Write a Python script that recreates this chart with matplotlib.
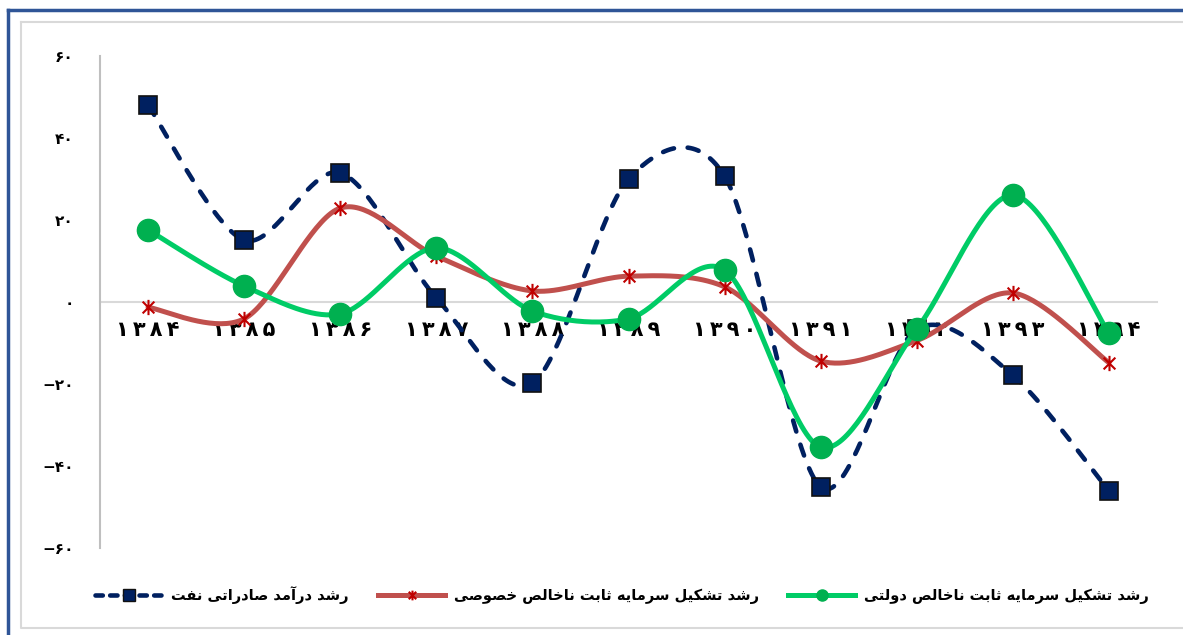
import numpy as np
import matplotlib
matplotlib.use('Agg')
import matplotlib.pyplot as plt
from matplotlib.lines import Line2D
from matplotlib.path import Path

years = ['۱۳۸۴', '۱۳۸۵', '۱۳۸۶', '۱۳۸۷', '۱۳۸۸', '۱۳۸۹',
         '۱۳۹۰', '۱۳۹۱', '۱۳۹۲', '۱۳۹۳', '۱۳۹۴']
oil = [48.0, 15.1, 31.5, 1.0, -19.8, 30.0, 30.7, -45.1, -6.6, -17.9, -46.1]
private = [-1.3, -4.1, 22.9, 11.2, 2.7, 6.3, 3.7, -14.4, -9.4, 2.2, -14.8]
govt = [17.6, 3.9, -2.9, 13.2, -2.2, -4.1, 7.8, -35.4, -6.6, 26.1, -7.6]
yticks = [60, 40, 20, 0, -20, -40, -60]
ytick_labels = ['۶۰', '۴۰', '۲۰', '۰', '−۲۰', '−۴۰', '−۶۰']
names = ['رشد درآمد صادراتی نفت',
         'رشد تشکیل سرمایه ثابت ناخالص خصوصی',
         'رشد تشکیل سرمایه ثابت ناخالص دولتی']

# arabic presentation forms: isolated, final, initial, medial
FORMS = {
    'ا': ('\uFE8D', '\uFE8E', None, None),
    'آ': ('\uFE81', '\uFE82', None, None),
    'ب': ('\uFE8F', '\uFE90', '\uFE91', '\uFE92'),
    'ت': ('\uFE95', '\uFE96', '\uFE97', '\uFE98'),
    'ث': ('\uFE99', '\uFE9A', '\uFE9B', '\uFE9C'),
    'خ': ('\uFEA5', '\uFEA6', '\uFEA7', '\uFEA8'),
    'د': ('\uFEA9', '\uFEAA', None, None),
    'ر': ('\uFEAD', '\uFEAE', None, None),
    'س': ('\uFEB1', '\uFEB2', '\uFEB3', '\uFEB4'),
    'ش': ('\uFEB5', '\uFEB6', '\uFEB7', '\uFEB8'),
    'ص': ('\uFEB9', '\uFEBA', '\uFEBB', '\uFEBC'),
    'ف': ('\uFED1', '\uFED2', '\uFED3', '\uFED4'),
    'ل': ('\uFEDD', '\uFEDE', '\uFEDF', '\uFEE0'),
    'م': ('\uFEE1', '\uFEE2', '\uFEE3', '\uFEE4'),
    'ن': ('\uFEE5', '\uFEE6', '\uFEE7', '\uFEE8'),
    'ه': ('\uFEE9', '\uFEEA', '\uFEEB', '\uFEEC'),
    'و': ('\uFEED', '\uFEEE', None, None),
    'ی': ('\uFBFC', '\uFBFD', '\uFBFE', '\uFBFF'),
    'ک': ('\uFB8E', '\uFB8F', '\uFB90', '\uFB91'),
}


def shape(s):
    out = []
    for i, c in enumerate(s):
        if c not in FORMS:
            out.append(c)
            continue
        prev = s[i - 1] if i > 0 else ''
        nxt = s[i + 1] if i + 1 < len(s) else ''
        jp = prev in FORMS and FORMS[prev][2] is not None
        jn = nxt in FORMS and FORMS[c][2] is not None
        iso, fin, ini, med = FORMS[c]
        if jp and jn:
            out.append(med)
        elif jp:
            out.append(fin)
        elif jn:
            out.append(ini)
        else:
            out.append(iso)
    return ''.join(out)[::-1]


def smooth(y, n=40, k=6.5):
    # excel-like smoothed line (catmull-rom bezier)
    y = np.asarray(y, float)
    x = np.arange(len(y), dtype=float)
    pts = np.column_stack([x, y])
    xs, ys = [], []
    t = np.linspace(0, 1, n)[:, None]
    for i in range(len(pts) - 1):
        p0 = pts[i]
        p3 = pts[i + 1]
        pm = pts[i - 1] if i > 0 else p0
        pp = pts[i + 2] if i + 2 < len(pts) else p3
        c1 = p0 + (p3 - pm) / k
        c2 = p3 - (pp - p0) / k
        b = ((1 - t) ** 3 * p0 + 3 * (1 - t) ** 2 * t * c1
             + 3 * (1 - t) * t ** 2 * c2 + t ** 3 * p3)
        xs.extend(b[:, 0])
        ys.extend(b[:, 1])
    return np.array(xs), np.array(ys)


star = Path([(-1, -1), (1, 1), (-1, 1), (1, -1), (0, -1.3), (0, 1.3)],
            [Path.MOVETO, Path.LINETO, Path.MOVETO, Path.LINETO,
             Path.MOVETO, Path.LINETO])

navy = '#002060'
red_line = '#C0504D'
red_mark = '#C00000'
green_line = '#00CC66'
green_mark = '#00B050'

fig = plt.figure(figsize=(11.83, 6.35), dpi=100)
ax = fig.add_axes([100 / 1183, 1 - 548 / 635, 1057 / 1183, 492 / 635])
x = np.arange(len(years))

sx, sy = smooth(oil)
ax.plot(sx, sy, color=navy, lw=3.3, dashes=(2.5, 3.0),
        dash_capstyle='round', zorder=3)
ax.plot(x, oil, ls='none', marker='s', ms=12.5, mfc=navy, mec='#111111',
        mew=1.2, zorder=4)

sx, sy = smooth(private)
ax.plot(sx, sy, color=red_line, lw=3.6, solid_capstyle='round', zorder=5)
ax.plot(x, private, ls='none', marker=star, ms=11, mfc='none',
        mec=red_mark, mew=1.5, zorder=6)

sx, sy = smooth(govt)
ax.plot(sx, sy, color=green_line, lw=3.6, solid_capstyle='round', zorder=7)
ax.plot(x, govt, ls='none', marker='o', ms=16, mfc=green_mark,
        mec=green_mark, zorder=8)

ax.set_xlim(-0.5, len(years) - 0.5)
ax.set_ylim(-60, 60)
ax.set_yticks(yticks)
ax.set_yticklabels(ytick_labels)
ax.set_xticks(x)
ax.set_xticklabels(['\u2009'.join(y) for y in years])
for s in ['top', 'right']:
    ax.spines[s].set_visible(False)
ax.spines['bottom'].set_position(('data', 0))
ax.spines['bottom'].set_color('#D9D9D9')
ax.spines['bottom'].set_linewidth(1.5)
ax.spines['bottom'].set_zorder(1)
ax.spines['left'].set_color('#BFBFBF')
ax.spines['left'].set_linewidth(1.5)
ax.tick_params(axis='x', length=0, pad=13, labelsize=15)
ax.tick_params(axis='y', length=0, pad=19, labelsize=11)
for lab in ax.get_xticklabels() + ax.get_yticklabels():
    lab.set_fontweight('bold')

handles = [
    Line2D([], [], color=navy, lw=3.3, dashes=(1.6, 1.6),
           dash_capstyle='round', marker='s', ms=8, mfc=navy, mec='#111111'),
    Line2D([], [], color=red_line, lw=3.6, marker=star, ms=7,
           mfc='none', mec=red_mark, mew=1.5),
    Line2D([], [], color=green_line, lw=3.6, marker='o', ms=8,
           mfc=green_mark, mec=green_mark),
]
fig.legend(handles, [shape(n) for n in names], ncol=3, loc='center',
           bbox_to_anchor=(622 / 1183, 1 - 595 / 635), frameon=False,
           prop={'size': 10.5, 'weight': 'bold'}, handlelength=4.6,
           columnspacing=2.0, handletextpad=0.6)

# chart frame decorations
fig.add_artist(Line2D([8 / 1183, 1], [1 - 10 / 635, 1 - 10 / 635],
                      color='#2F5597', lw=2.5, transform=fig.transFigure))
fig.add_artist(Line2D([8 / 1183, 8 / 1183], [0, 1 - 10 / 635],
                      color='#2F5597', lw=2.5, transform=fig.transFigure))
fig.add_artist(Line2D([21 / 1183, 1.01, 1.01, 21 / 1183, 21 / 1183],
                      [1 - 22 / 635, 1 - 22 / 635, 1 - 628 / 635,
                       1 - 628 / 635, 1 - 22 / 635],
                      color='#D9D9D9', lw=1.5, transform=fig.transFigure))

fig.savefig('out.png', dpi=100)
